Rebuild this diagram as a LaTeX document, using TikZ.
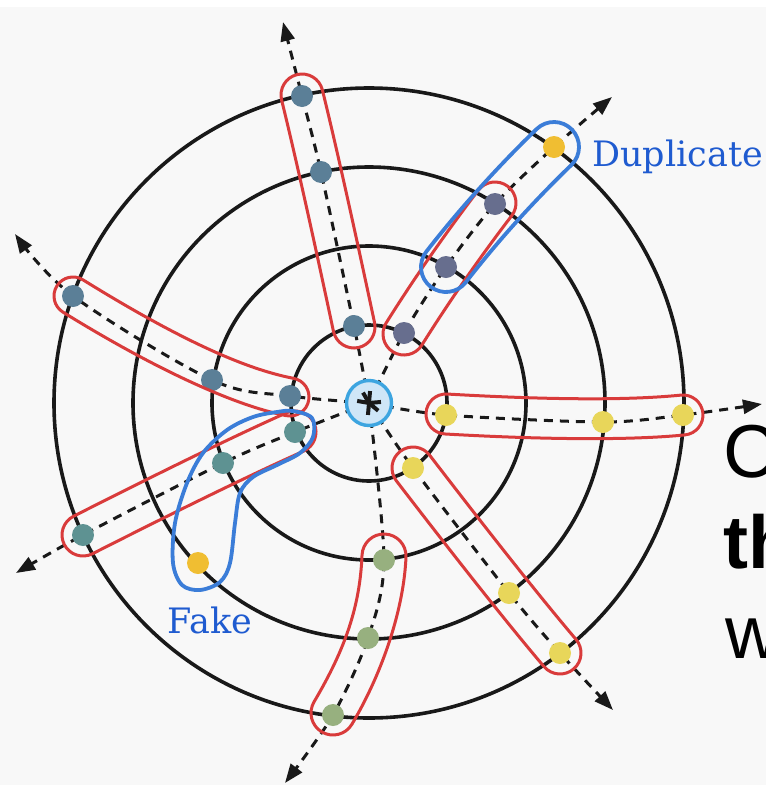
\documentclass[tikz,border=0pt]{standalone}
\usepackage{fontspec}
\setmainfont{Liberation Sans}
\newfontfamily\labelfont{DejaVu Serif}
\usetikzlibrary{arrows.meta,calc}
\definecolor{bgc}{HTML}{F8F8F8}
\definecolor{loopred}{HTML}{D93B3B}
\definecolor{loopblue}{HTML}{3B7DD8}
\definecolor{labblue}{HTML}{1F5BD0}
\definecolor{hubfill}{HTML}{CFE6F7}
\definecolor{hubline}{HTML}{3DA5E0}
\definecolor{cslate}{HTML}{5B7F97}
\definecolor{cpurple}{HTML}{676E8E}
\definecolor{cteal}{HTML}{5E9292}
\definecolor{csage}{HTML}{97B07F}
\definecolor{cyellow}{HTML}{E8D65A}
\definecolor{cgold}{HTML}{F0BE32}
% loop around centre line A (#2), M (#3), B (#4), half width #5
\newcommand\mkloop[6]{%
  \coordinate (#1a) at ($(#2)!#5!90:(#3)$);
  \coordinate (#1c) at ($(#4)!#5!-90:(#3)$);
  \coordinate (#1e) at ($(#4)!#5!180:(#3)$);
  \coordinate (#1g) at ($(#4)!#5!90:(#3)$);
  \coordinate (#1i) at ($(#2)!#5!-90:(#3)$);
  \coordinate (#1k) at ($(#2)!#5!180:(#3)$);
  \coordinate (#1u) at ($(#3)-(#2)$);
  \coordinate (#1v) at ($(#3)-(#4)$);
  \coordinate (#1s1) at ($(#1a)+0.66*(#1u)$);
  \coordinate (#1s2) at ($(#1c)+0.66*(#1v)$);
  \coordinate (#1t1) at ($(#1g)+0.66*(#1v)$);
  \coordinate (#1t2) at ($(#1i)+0.66*(#1u)$);
  \coordinate (#1qa) at ($(#1c)+(#1e)-(#4)$);
  \coordinate (#1qb) at ($(#1g)+(#1e)-(#4)$);
  \coordinate (#1qc) at ($(#1i)+(#1k)-(#2)$);
  \coordinate (#1qd) at ($(#1a)+(#1k)-(#2)$);
  \draw[#6] (#1a) .. controls (#1s1) and (#1s2) .. (#1c)
    .. controls ($(#1c)!0.5523!(#1qa)$) and ($(#1e)!0.5523!(#1qa)$) .. (#1e)
    .. controls ($(#1e)!0.5523!(#1qb)$) and ($(#1g)!0.5523!(#1qb)$) .. (#1g)
    .. controls (#1t1) and (#1t2) .. (#1i)
    .. controls ($(#1i)!0.5523!(#1qc)$) and ($(#1k)!0.5523!(#1qc)$) .. (#1k)
    .. controls ($(#1k)!0.5523!(#1qd)$) and ($(#1a)!0.5523!(#1qd)$) .. (#1a) -- cycle;
}
\begin{document}
\begin{tikzpicture}[x=1pt,y=-1pt,
  ring/.style={draw=black!90, line width=3.6pt},
  ray/.style={draw=black!90, line width=3pt, dash pattern=on 9pt off 7pt, -{Triangle[length=19pt,width=14pt]}},
  bead/.style={circle, fill=#1, inner sep=0pt, minimum size=22pt},
  hubnode/.style={circle, draw=hubline, fill=hubfill, line width=3.4pt, minimum size=45pt, inner sep=0pt},
  redloop/.style={draw=loopred, line width=3pt},
  blueloop/.style={draw=loopblue, line width=3.8pt},
  lab/.style={font=\labelfont\fontsize{35}{40}\selectfont, text=labblue, inner sep=0pt, anchor=base west},
  big/.style={font=\fontsize{75}{90}\selectfont, inner sep=0pt, anchor=base west}
]
\useasboundingbox (0,0) rectangle (766,785);
\fill[white] (0,0) rectangle (766,785);
\fill[bgc] (0,7) rectangle (766,785);

\coordinate (c) at (369,403);
\foreach \r in {78,157,236,315} \draw[ring] (c) circle[radius=\r];

% ray end points
\coordinate (t1) at (283,22);
\coordinate (t2) at (612,97);
\coordinate (t3) at (762,404);
\coordinate (t4) at (613,710);
\coordinate (t5) at (285,783);
\coordinate (t6) at (16,573);
\coordinate (t7) at (15,234);

% bead positions
\coordinate (a1) at (354,326); \coordinate (a2) at (321,172); \coordinate (a3) at (302,96);
\coordinate (b1) at (404,333); \coordinate (b2) at (446,267); \coordinate (b3) at (495,204); \coordinate (b4) at (554,147);
\coordinate (d1) at (446,415); \coordinate (d2) at (603,422); \coordinate (d3) at (683,415);
\coordinate (e1) at (413,468); \coordinate (e2) at (509,593); \coordinate (e3) at (560,653);
\coordinate (f1) at (384,560); \coordinate (f2) at (368,638); \coordinate (f3) at (333,715);
\coordinate (g1) at (295,432); \coordinate (g2) at (223,463); \coordinate (g3) at (83,535);
\coordinate (h1) at (290,396); \coordinate (h2) at (212,380); \coordinate (h3) at (73,296);
\coordinate (fk) at (198,563);

% rays
\draw[ray] plot[smooth, tension=0.5] coordinates {(c) (a1) (a2) (a3) (t1)};
\draw[ray] plot[smooth, tension=0.5] coordinates {(c) (b1) (b2) (b3) (b4) (t2)};
\draw[ray] plot[smooth, tension=0.5] coordinates {(c) (d1) (d2) (d3) (t3)};
\draw[ray] plot[smooth, tension=0.5] coordinates {(c) (e1) (e2) (e3) (t4)};
\draw[ray] plot[smooth, tension=0.5] coordinates {(c) (f1) (f2) (f3) (t5)};
\draw[ray] plot[smooth, tension=0.5] coordinates {(c) (g1) (g2) (g3) (t6)};
\draw[ray] plot[smooth, tension=0.55] coordinates {(c) (h1) (h2) (h3) (t7)};

% hub
\node[hubnode] (hub) at (c) {};
\foreach \a in {95,40,-5,190,-85,-120}
  \draw[line width=4pt, black!90] (hub.center) -- ++(\a:12);

% beads
\foreach \p in {a1,a2,a3,h1,h2,h3} \node[bead=cslate] (n\p) at (\p) {};
\foreach \p in {b1,b2,b3} \node[bead=cpurple] (n\p) at (\p) {};
\node[bead=cgold] (nb4) at (b4) {};
\foreach \p in {d1,d2,d3,e1,e2,e3} \node[bead=cyellow] (n\p) at (\p) {};
\foreach \p in {f1,f2,f3} \node[bead=csage] (n\p) at (\p) {};
\foreach \p in {g1,g2,g3} \node[bead=cteal] (n\p) at (\p) {};
\node[bead=cgold] (nfk) at (fk) {};

% red loops
\mkloop{LA}{354,327}{321,172}{302,95}{21pt}{redloop}
\mkloop{LB}{404,334}{446,267}{495,203}{21pt}{redloop}
\mkloop{LC}{446,414}{603,423}{683,415}{20pt}{redloop}
\mkloop{LD}{413,468}{509,593}{560,653}{21pt}{redloop}
\mkloop{LE}{384,556}{381,632}{333,713}{22pt}{redloop}
\mkloop{LF}{295,432}{223,464}{83,535}{21pt}{redloop}
\mkloop{LG}{290,397}{212,382}{73,296}{19pt}{redloop}

% blue loops
\mkloop{LH}{446,267}{495,204}{554,147}{25pt}{blueloop}
\draw[blueloop] plot[smooth cycle, tension=0.55] coordinates {
  (293,411) (312,418) (313,437) (300,453) (277,465) (253,477) (240,493)
  (235,523) (230,563) (220,582) (200,590) (182,585) (173,563) (175,523)
  (187,483) (203,453) (227,430) (253,417) (277,412)};

% labels
\node[lab] (dup) at (592,166) {Duplicate};
\node[lab] (fake) at (167,633) {Fake};

% slide text, cut off at the right edge as in the reference
\node[big] (w1) at (723,477) {C};
\node[big, font=\fontsize{75}{90}\selectfont\bfseries] (w2) at (723,568) {th};
\node[big] (w3) at (725,658) {w};
\end{tikzpicture}
\end{document}
